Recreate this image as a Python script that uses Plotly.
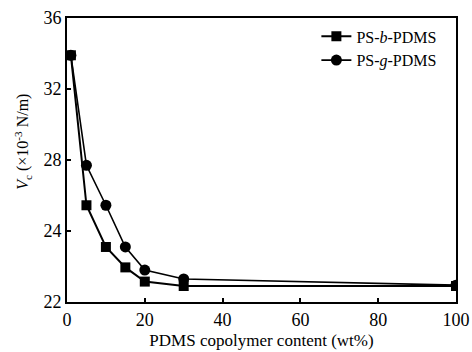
import plotly.graph_objects as go

content = [1, 5, 10, 15, 20, 30, 100]
ps_b_pdms = [33.9, 25.45, 23.1, 21.95, 21.15, 20.9, 20.9]
ps_g_pdms = [33.9, 27.7, 25.45, 23.1, 21.8, 21.3, 20.95]
y_tickvals = [20, 24, 28, 32, 36]
y_ticktext = ["22", "24", "28", "32", "36"]
x_tickvals = [0, 20, 40, 60, 80, 100]

font = "Liberation Serif"

fig = go.Figure()
fig.add_trace(go.Scatter(
    x=content, y=ps_b_pdms, mode="lines+markers", name="PS-<i>b</i>-PDMS",
    line=dict(color="black", width=2),
    marker=dict(symbol="square", size=10, color="black")))
fig.add_trace(go.Scatter(
    x=content, y=ps_g_pdms, mode="lines+markers", name="PS-<i>g</i>-PDMS",
    line=dict(color="black", width=1.6),
    marker=dict(symbol="circle", size=11, color="black")))

fig.add_annotation(
    text="<i>V</i><sub>c</sub> (×10<sup>-3</sup> N/m)",
    xref="paper", yref="paper", x=-0.115, y=0.565,
    xanchor="center", yanchor="middle", textangle=-90, showarrow=False,
    font=dict(size=16, family=font, color="black"))

fig.update_layout(
    width=472, height=352,
    margin=dict(l=67, r=16, t=18, b=50),
    plot_bgcolor="white", paper_bgcolor="white",
    font=dict(family=font, color="black", size=15),
    showlegend=True,
    legend=dict(x=0.965, y=0.995, xanchor="right", yanchor="top",
                bgcolor="rgba(0,0,0,0)", font=dict(size=16, family=font),
                tracegroupgap=0, itemwidth=30),
    xaxis=dict(range=[0, 100], tickvals=x_tickvals, ticks="inside", ticklen=4,
               tickwidth=1.5, tickcolor="black", automargin=False,
               showline=True, linecolor="black", linewidth=2, mirror=True,
               showgrid=False, zeroline=False,
               tickfont=dict(size=18, family=font),
               title=dict(text="PDMS copolymer content (wt%)", font=dict(size=17, family=font), standoff=6)),
    yaxis=dict(range=[20, 36], tickvals=y_tickvals, ticktext=y_ticktext,
               ticks="inside", ticklen=4, tickwidth=1.5, tickcolor="black", automargin=False,
               showline=True, linecolor="black", linewidth=2, mirror=True,
               showgrid=False, zeroline=False,
               tickfont=dict(size=18, family=font)),
)

fig.write_html("out.html")
